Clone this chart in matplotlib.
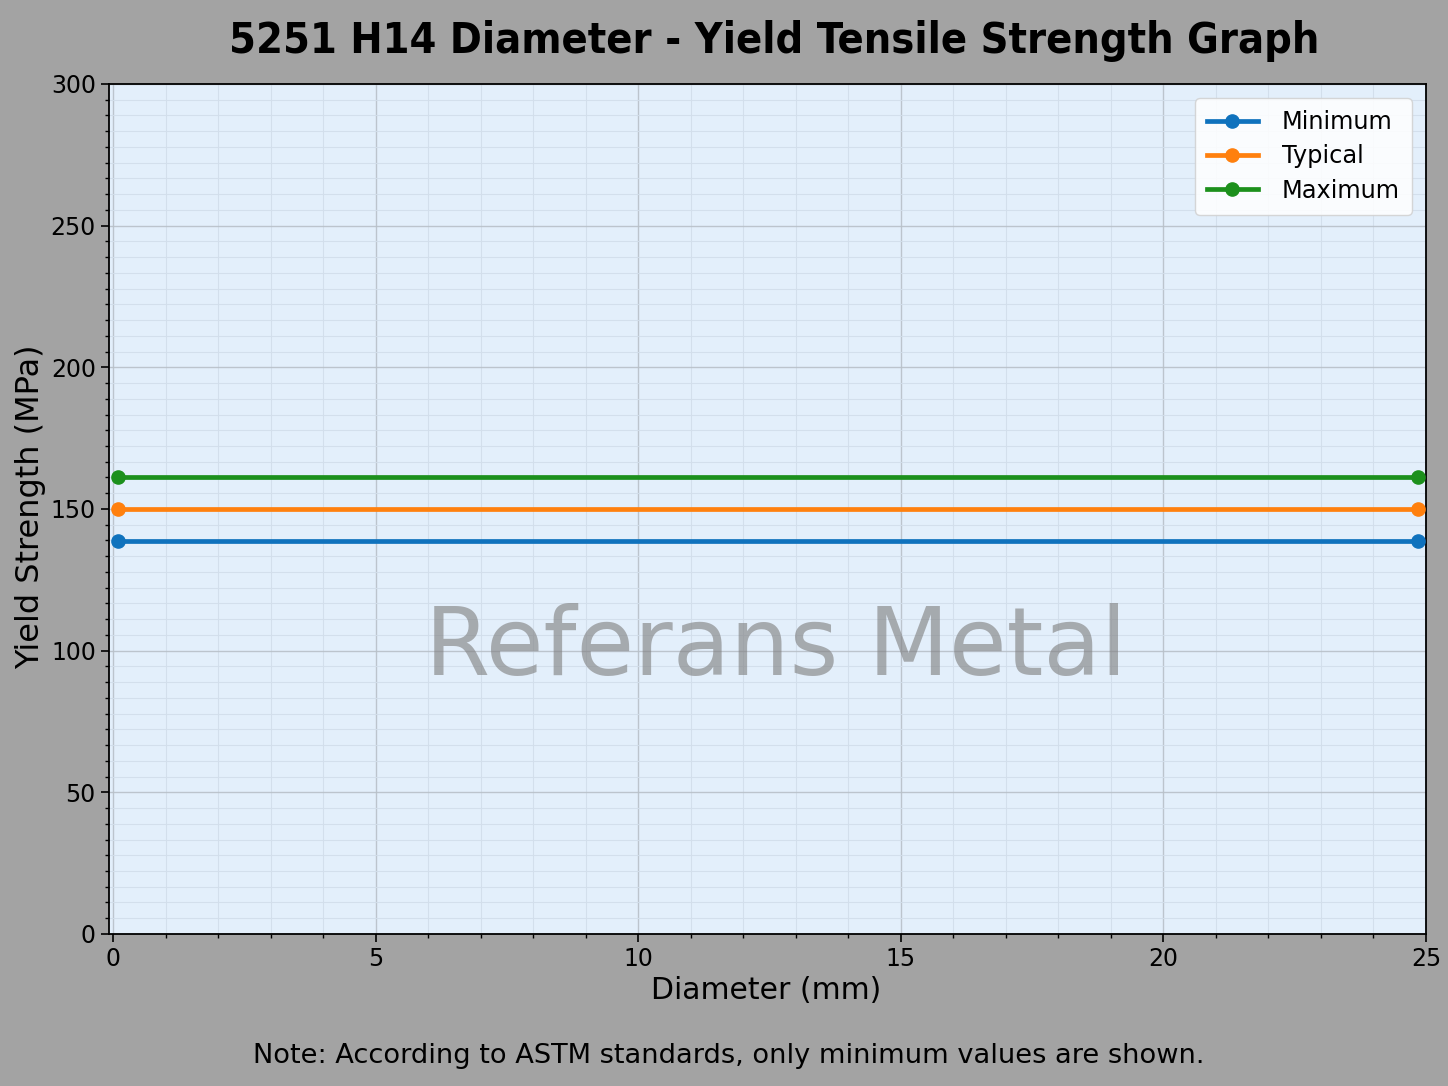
import matplotlib
matplotlib.use("Agg")
import matplotlib.pyplot as plt
from matplotlib.ticker import AutoMinorLocator, MultipleLocator

# Data
diameter = [0.1, 24.85]
minimum = [138.7, 138.7]
typical = [150.0, 150.0]
maximum = [161.3, 161.3]
series_names = ["Minimum", "Typical", "Maximum"]
series_colors = ["#0f72bd", "#ff800e", "#1c901c"]

title = "5251 H14 Diameter - Yield Tensile Strength Graph"
xlabel = "Diameter (mm)"
ylabel = "Yield Strength (MPa)"
note = "Note: According to ASTM standards, only minimum values are shown."
watermark = "Referans Metal"

plt.rcParams['font.family'] = ['DejaVu Sans']

fig = plt.figure(figsize=(14.48, 10.86), dpi=100)
fig.patch.set_facecolor("#a3a3a3")
ax = fig.add_axes([0.0753, 0.140, 0.9095, 0.7827])
ax.set_facecolor("#e3effb")

for vals, name, col in zip([minimum, typical, maximum], series_names, series_colors):
    ax.plot(diameter, vals, color=col, linewidth=3.4, marker='o', markersize=9.5, label=name, zorder=3)

ax.set_xlim(-0.08, 25)
ax.set_ylim(0, 300)
ax.xaxis.set_major_locator(MultipleLocator(5))
ax.yaxis.set_major_locator(MultipleLocator(50))
ax.xaxis.set_minor_locator(AutoMinorLocator(5))
ax.yaxis.set_minor_locator(AutoMinorLocator(9))
ax.grid(which='major', color='#b8c0c8', linewidth=1.0, alpha=0.9)
ax.grid(which='minor', color='#d2deeb', linewidth=0.8, alpha=0.9)
ax.set_axisbelow(True)

ax.tick_params(axis='both', which='major', labelsize=17, length=6, width=1.2, colors='black')
ax.tick_params(axis='both', which='minor', length=3, width=1.0)
for s in ax.spines.values():
    s.set_linewidth(1.3)
    s.set_color('black')

ax.text(0.506, 0.335, watermark, transform=ax.transAxes, fontsize=67.5,
        color='#808080', alpha=0.62, ha='center', va='center', zorder=2)

leg = ax.legend(loc='upper right', fontsize=17.3, frameon=True, framealpha=0.85,
                facecolor='white', edgecolor='#d0d0d0', borderpad=0.5,
                handlelength=2.1, handletextpad=1.0, labelspacing=0.42,
                borderaxespad=0.6)

fig.text(0.535, 0.962, title, fontsize=31, fontweight='bold', ha='center', va='center',
         fontstretch='condensed')
fig.text(0.529, 0.088, xlabel, fontsize=21.5, ha='center', va='center')
fig.text(0.021, 0.533, ylabel, fontsize=23, ha='center', va='center', rotation=90)
fig.text(0.503, 0.028, note, fontsize=19.6, ha='center', va='center')

fig.savefig("out.png", dpi=100, facecolor=fig.get_facecolor())
